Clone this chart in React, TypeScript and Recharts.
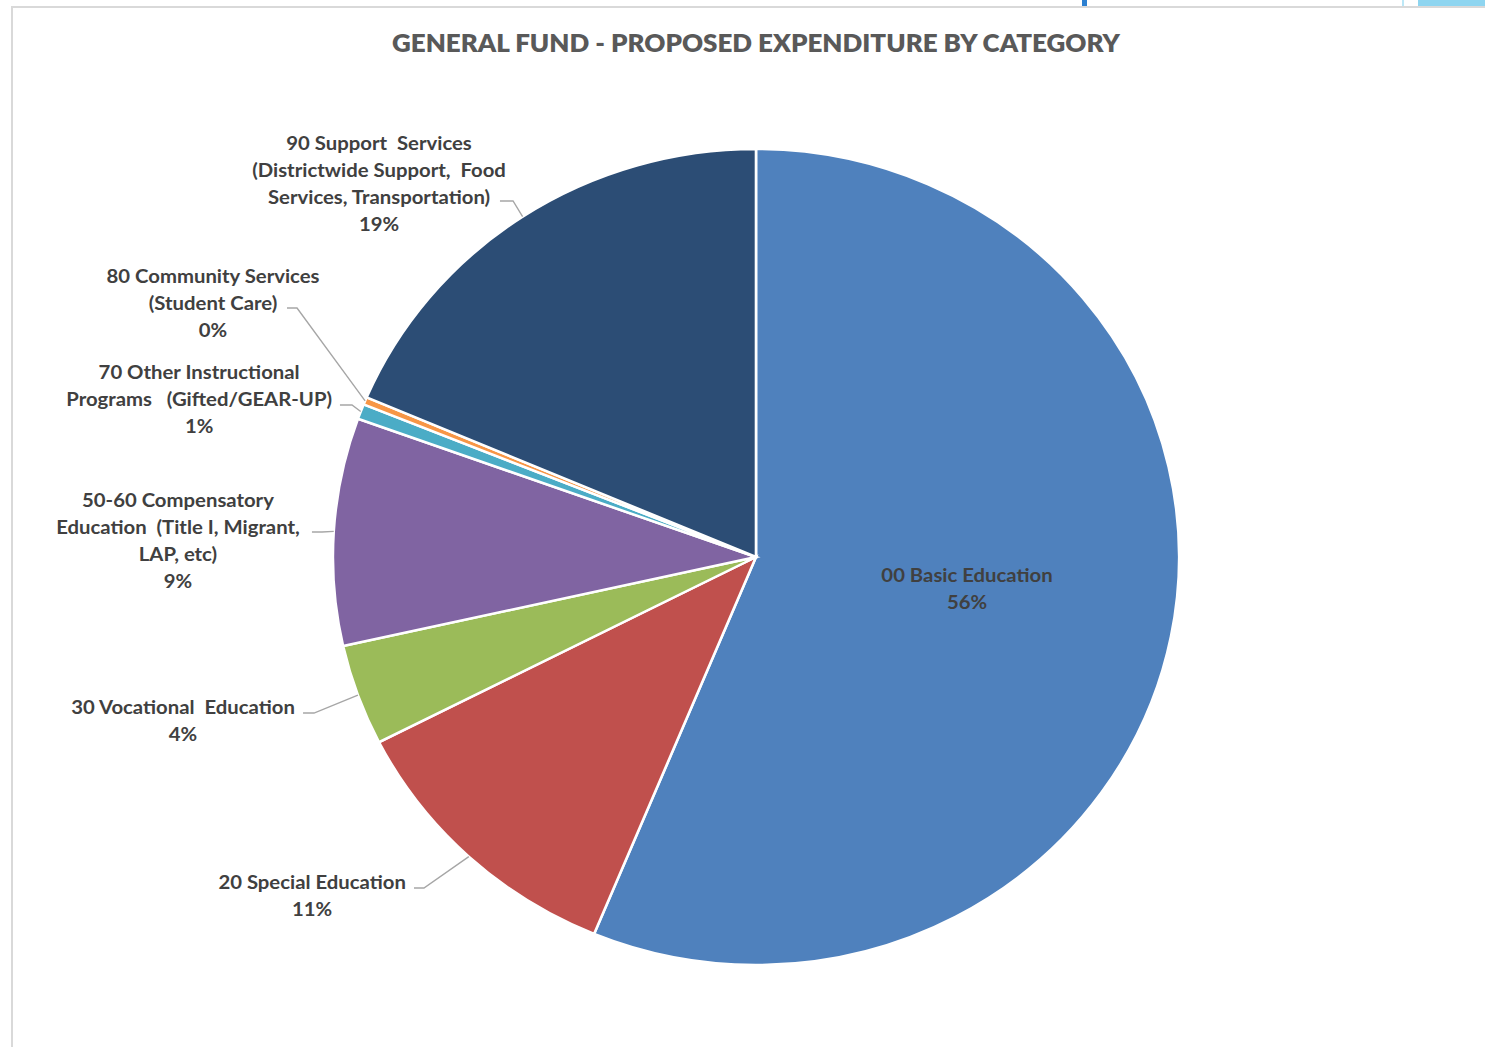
import React from 'react';
import { PieChart, Pie, Cell } from 'recharts';

const categories = [
  '00 Basic Education',
  '20 Special Education',
  '30 Vocational Education',
  '50-60 Compensatory Education (Title I, Migrant, LAP, etc)',
  '70 Other Instructional Programs (Gifted/GEAR-UP)',
  '80 Community Services (Student Care)',
  '90 Support Services (Districtwide Support, Food Services, Transportation)',
];
const values = [56.25, 11.25, 4.0, 9.0, 0.6, 0.3, 18.6];
const labelLines = [
  ['00 Basic Education'],
  ['20 Special Education'],
  ['30 Vocational  Education'],
  ['50-60 Compensatory', 'Education  (Title I, Migrant,', 'LAP, etc)'],
  ['70 Other Instructional', 'Programs   (Gifted/GEAR-UP)'],
  ['80 Community Services', '(Student Care)'],
  ['90 Support  Services', '(Districtwide Support,  Food', 'Services, Transportation)'],
];
const colors = ['#4F81BD', '#C0504D', '#9BBB59', '#8064A2', '#4BACC6', '#F79646', '#2C4D75'];
const title = 'GENERAL FUND - PROPOSED EXPENDITURE BY CATEGORY';

// label layout relative to the pie centre (text centre of first line, leader start, leader elbow)
const labelLayout = [
  { tx: 203.5, ty: 17, line: null },
  { tx: -428, ty: 324, line: [[-329.8, 331], [-320.2, 331]] },
  { tx: -552.5, ty: 149, line: [[-436.8, 156], [-426.2, 156]] },
  { tx: -557.4, ty: -58, line: [[-428.2, -25], [-418.5, -25]] },
  { tx: -537, ty: -186, line: [[-401.2, -152], [-389.6, -152]] },
  { tx: -523.6, ty: -282, line: [[-452.3, -249], [-442.6, -249]] },
  { tx: -363.5, ty: -415, line: [[-246.9, -356], [-234.3, -356]] },
];

const data = categories.map((name, i) => ({ name, value: values[i] }));

const LINE_H = 27;
const RAD = Math.PI / 180;

const renderLabel = (props: any) => {
  const { cx, cy, midAngle, outerRadius, index, percent } = props;
  const lay = labelLayout[index];
  const lines = [...labelLines[index], `${Math.round(percent * 100)}%`];
  let leader = null;
  if (lay.line) {
    const ex = cx + outerRadius * Math.cos(-midAngle * RAD);
    const ey = cy + outerRadius * Math.sin(-midAngle * RAD);
    const pts = [
      [cx + lay.line[0][0], cy + lay.line[0][1]],
      [cx + lay.line[1][0], cy + lay.line[1][1]],
      [ex, ey],
    ];
    leader = (
      <polyline
        points={pts.map((p) => p.join(',')).join(' ')}
        fill="none"
        stroke="#A6A6A6"
        strokeWidth={1.3}
      />
    );
  }
  return (
    <g key={`lbl-${index}`}>
      {leader}
      <text
        textAnchor="middle"
        fill="#404040"
        fontFamily="Lato, 'Open Sans', sans-serif"
        fontWeight={700}
        fontSize={19.6}
        style={{ whiteSpace: 'pre' }}
      >
        {lines.map((ln, j) => (
          <tspan key={j} x={cx + lay.tx} y={cy + lay.ty + j * LINE_H} dominantBaseline="central">
            {ln}
          </tspan>
        ))}
      </text>
    </g>
  );
};

export default function App() {
  return (
    <div style={{ position: 'absolute', left: 0, top: 0, width: 1485, height: 1047, background: '#fff', overflow: 'hidden' }}>
      <div style={{ position: 'absolute', left: 11, top: 6, right: 0, bottom: 0, borderLeft: '2px solid #D9D9D9', borderTop: '2px solid #D9D9D9' }} />
      <div style={{ position: 'absolute', left: 1082, top: 0, width: 5, height: 6, background: '#2B7FD0' }} />
      <div style={{ position: 'absolute', left: 1402, top: 0, width: 2, height: 6, background: '#BDE8F7' }} />
      <div style={{ position: 'absolute', left: 1418, top: 0, width: 67, height: 6, background: '#8ED5F0' }} />
      <svg style={{ position: 'absolute', left: 0, top: 0 }} width={1485} height={80}>
        <text
          x={756}
          y={42}
          textAnchor="middle"
          dominantBaseline="central"
          fill="#595959"
          fontFamily="Lato, 'Open Sans', sans-serif"
          fontWeight={800}
          fontSize={24}
          textLength={728}
          lengthAdjust="spacingAndGlyphs"
        >
          {title}
        </text>
      </svg>
      <div style={{ position: 'absolute', left: 0, top: 0, transform: 'scaleX(1.037)', transformOrigin: '756px 0px' }}>
        <PieChart width={1485} height={1047}>
          <Pie
            data={data}
            dataKey="value"
            nameKey="name"
            cx={751}
            cy={552}
            outerRadius={408}
            startAngle={90}
            endAngle={-270}
            stroke="#FFFFFF"
            strokeWidth={2.5}
            label={renderLabel}
            labelLine={false}
            isAnimationActive={false}
          >
            {data.map((d, i) => (
              <Cell key={d.name} fill={colors[i]} />
            ))}
          </Pie>
        </PieChart>
      </div>
    </div>
  );
}
